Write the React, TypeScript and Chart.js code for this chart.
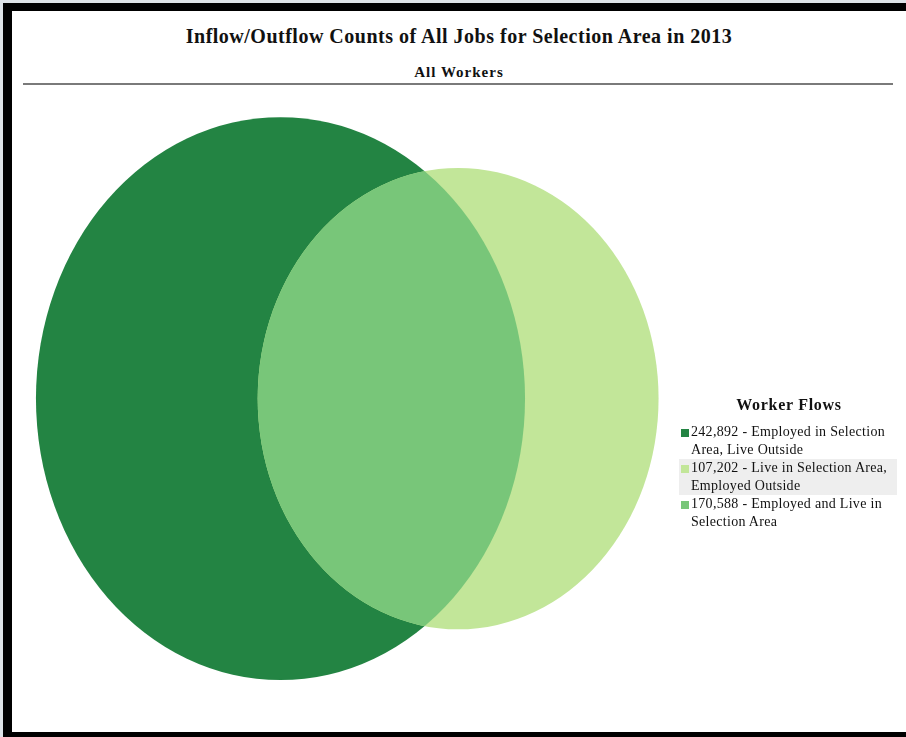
import React, { useEffect, useRef } from "react";
import { Chart, registerables } from "chart.js";

Chart.register(...registerables);

// ---- data ----
const chartTitle = "Inflow/Outflow Counts of All Jobs for Selection Area in 2013";
const chartSubtitle = "All Workers";
const legendTitle = "Worker Flows";
const flowLabels = [
  "Employed in Selection Area, Live Outside",
  "Live in Selection Area, Employed Outside",
  "Employed and Live in Selection Area",
];
const flowCounts = [242892, 107202, 170588];
const flowColors = ["#238443", "#c2e699", "#78c679"];
const highlightedItem = 1;

// axis ranges (data units = sqrt of worker counts)
const xRange = [-706, 1608];
const yRange = [-757, 705];

const SERIF = "'Liberation Serif', 'Times New Roman', serif";

// overlap area of two circles
function overlapArea(r1: number, r2: number, d: number): number {
  if (d >= r1 + r2) return 0;
  if (d <= Math.abs(r1 - r2)) return Math.PI * Math.min(r1, r2) ** 2;
  const a1 = Math.acos((d * d + r1 * r1 - r2 * r2) / (2 * d * r1));
  const a2 = Math.acos((d * d + r2 * r2 - r1 * r1) / (2 * d * r2));
  const k = Math.sqrt((-d + r1 + r2) * (d + r1 - r2) * (d - r1 + r2) * (d + r1 + r2));
  return r1 * r1 * a1 + r2 * r2 * a2 - 0.5 * k;
}

function solveDistance(r1: number, r2: number, target: number): number {
  let lo = Math.abs(r1 - r2);
  let hi = r1 + r2;
  for (let i = 0; i < 80; i++) {
    const mid = (lo + hi) / 2;
    if (overlapArea(r1, r2, mid) > target) lo = mid;
    else hi = mid;
  }
  return (lo + hi) / 2;
}

const vennPlugin = {
  id: "venn",
  beforeDatasetsDraw(chart: any) {
    const ctx = chart.ctx;
    const xs = chart.scales.x;
    const ys = chart.scales.y;
    const ds = chart.data.datasets[0];
    const pts = ds.data as { x: number; y: number; r: number }[];
    const ell = pts.map((p) => {
      const cx = xs.getPixelForValue(p.x);
      const cy = ys.getPixelForValue(p.y);
      const rx = Math.abs(xs.getPixelForValue(p.x + p.r) - cx);
      const ry = Math.abs(ys.getPixelForValue(p.y + p.r) - cy);
      return { cx, cy, rx, ry };
    });
    const path = (e: any) => {
      ctx.beginPath();
      ctx.ellipse(e.cx, e.cy, e.rx, e.ry, 0, 0, Math.PI * 2);
    };
    ctx.save();
    path(ell[0]);
    ctx.fillStyle = flowColors[0];
    ctx.fill();
    path(ell[1]);
    ctx.fillStyle = flowColors[1];
    ctx.fill();
    // overlap
    ctx.save();
    path(ell[0]);
    ctx.clip();
    path(ell[1]);
    ctx.fillStyle = flowColors[2];
    ctx.fill();
    ctx.restore();
    ctx.restore();
  },
};

function VennChart() {
  const ref = useRef<HTMLCanvasElement | null>(null);
  useEffect(() => {
    if (!ref.current) return;
    const totalA = flowCounts[0] + flowCounts[2];
    const totalB = flowCounts[1] + flowCounts[2];
    const r1 = Math.sqrt(totalA);
    const r2 = Math.sqrt(totalB);
    const d = solveDistance(r1, r2, Math.PI * flowCounts[2]);
    const chart = new Chart(ref.current, {
      type: "scatter",
      data: {
        datasets: [
          {
            data: [
              { x: 0, y: 0, r: r1 },
              { x: d, y: 0, r: r2 },
            ] as any,
            pointRadius: 0,
            pointHoverRadius: 0,
          },
        ],
      },
      options: {
        responsive: false,
        animation: false,
        events: [],
        layout: { padding: 0 },
        scales: {
          x: { type: "linear", display: false, min: xRange[0], max: xRange[1] },
          y: { type: "linear", display: false, min: yRange[0], max: yRange[1] },
        },
        plugins: {
          legend: { display: false },
          tooltip: { enabled: false },
          title: { display: false },
        },
      },
      plugins: [vennPlugin],
    });
    return () => chart.destroy();
  }, []);
  return (
    <canvas
      ref={ref}
      width={880}
      height={640}
      style={{ position: "absolute", left: 12, top: 90, width: 880, height: 640 }}
    />
  );
}

export default function App() {
  return (
    <div
      style={{
        position: "relative",
        width: 906,
        height: 737,
        overflow: "hidden",
        background: "#dde2e7",
        fontFamily: SERIF,
        color: "#111",
      }}
    >
      <style>{"html,body{margin:0;padding:0;overflow:hidden;}"}</style>
      <div style={{ position: "absolute", left: 3, top: 3, width: 940, height: 760, background: "#000" }} />
      <div style={{ position: "absolute", left: 12, top: 11, width: 930, height: 721, background: "#fff" }} />
      <div
        style={{
          position: "absolute",
          left: 12,
          width: 894,
          top: 24,
          textAlign: "center",
          fontWeight: "bold",
          fontSize: 20,
          letterSpacing: "0.5px",
          lineHeight: "24px",
          whiteSpace: "nowrap",
        }}
      >
        {chartTitle}
      </div>
      <div
        style={{
          position: "absolute",
          left: 12,
          width: 894,
          top: 63,
          textAlign: "center",
          fontWeight: "bold",
          fontSize: 15,
          letterSpacing: "1px",
          lineHeight: "18px",
        }}
      >
        {chartSubtitle}
      </div>
      <div style={{ position: "absolute", left: 23, top: 83, width: 870, height: 2, background: "#7a7a7a" }} />
      <VennChart />
      <div style={{ position: "absolute", left: 679, top: 394, width: 218 }}>
        <div
          style={{
            textAlign: "center",
            fontWeight: "bold",
            fontSize: 16,
            letterSpacing: "0.7px",
            lineHeight: "22px",
            marginBottom: 7,
            paddingLeft: 2,
          }}
        >
          {legendTitle}
        </div>
        {flowLabels.map((lab, i) => (
          <div
            key={i}
            style={{
              position: "relative",
              paddingLeft: 12,
              paddingRight: 2,
              fontSize: 14,
              letterSpacing: "0.3px",
              lineHeight: "18px",
              background: i === highlightedItem ? "#eeeeee" : "transparent",
            }}
          >
            <span
              style={{
                position: "absolute",
                left: 2,
                top: 6,
                width: 8,
                height: 8,
                background: flowColors[i],
              }}
            />
            {flowCounts[i].toLocaleString("en-US") + " - " + lab}
          </div>
        ))}
      </div>
    </div>
  );
}
